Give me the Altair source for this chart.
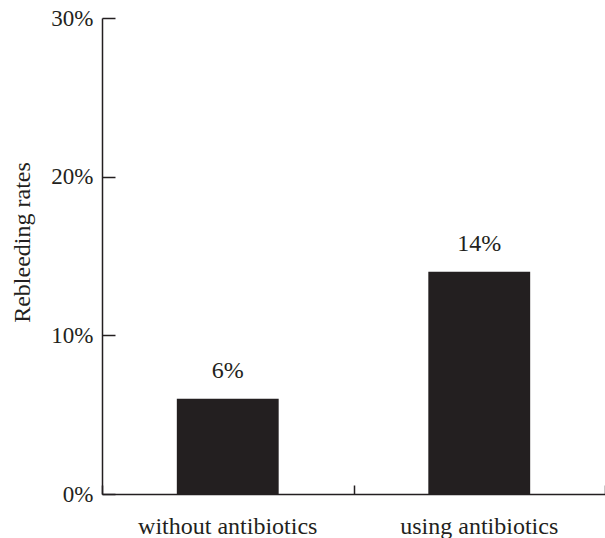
import altair as alt
import pandas as pd

# Rebleeding rates by antibiotic use
groups = ["without antibiotics", "using antibiotics"]
rates = [0.06, 0.14]
y_ticks = [0.0, 0.1, 0.2, 0.3]

INK = "#231f20"
FONT = "Times New Roman, 'Liberation Serif', Times, serif"

df = pd.DataFrame({"group": groups, "rate": rates})

x_scale = alt.Scale(domain=groups, paddingInner=0, paddingOuter=0)
y_scale = alt.Scale(domain=[0, 0.3], nice=False, zero=True)

bars = alt.Chart(df).mark_bar(
    color=INK, width=alt.RelativeBandSize(0.405)
).encode(
    x=alt.X(
        "group:N", scale=x_scale, sort=groups,
        axis=alt.Axis(
            orient="bottom", title=None, ticks=False, tickSize=0,
            domain=True, domainColor=INK, domainWidth=1.5,
            labelAngle=0, labelFont=FONT, labelFontSize=24, labelColor=INK,
            labelBaseline="alphabetic", labelPadding=39,
        ),
    ),
    y=alt.Y(
        "rate:Q", scale=y_scale,
        axis=alt.Axis(
            orient="left", values=y_ticks, format=".0%",
            ticks=False, tickSize=0, grid=False,
            domain=True, domainColor=INK, domainWidth=1.5,
            labelFont=FONT, labelFontSize=23, labelColor=INK,
            labelBaseline="middle", labelPadding=9,
            title="Rebleeding rates", titleFont=FONT, titleFontSize=24,
            titleFontWeight="normal", titleColor=INK,
            titleX=-80, titleY=224, titleAngle=270,
            titleAlign="center", titleBaseline="middle",
        ),
    ),
)

# Value labels above bars, with a second axis pair that draws inward ticks
labels = alt.Chart(df).mark_text(
    font=FONT, fontSize=24, color=INK, baseline="alphabetic", dy=-21
).encode(
    x=alt.X(
        "group:N", scale=x_scale, sort=groups,
        axis=alt.Axis(
            orient="bottom", title=None, labels=False, domain=False,
            ticks=True, tickBand="extent", tickSize=9, offset=-9,
            tickColor=INK, tickWidth=1.5,
        ),
    ),
    y=alt.Y(
        "rate:Q", scale=y_scale,
        axis=alt.Axis(
            orient="left", title=None, labels=False, domain=False, grid=False,
            values=y_ticks, ticks=True, tickSize=13, offset=-13,
            tickColor=INK, tickWidth=1.5,
        ),
    ),
    text=alt.Text("rate:Q", format=".0%"),
)

chart = alt.layer(bars, labels).resolve_axis(
    x="independent", y="independent"
).properties(
    width=503, height=476,
    autosize=alt.AutoSizeParams(type="none"),
    padding={"left": 102, "top": 18, "right": 0, "bottom": 44},
    background="white",
).configure_view(stroke=None)

chart.save("out.html", embed_options={"renderer": "svg", "actions": False})
